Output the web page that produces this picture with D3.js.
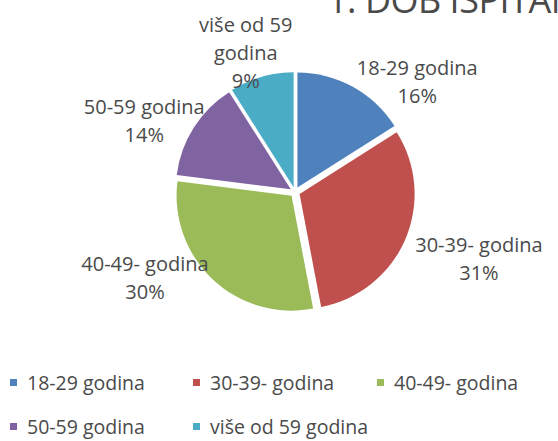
<!DOCTYPE html>
<html>
<head>
<meta charset="utf-8">
<script src="https://cdn.jsdelivr.net/npm/d3@7"></script>
<style>
  body { margin: 0; background: #fff; }
  svg { display: block; }
  text { font-family: "Open Sans", "Noto Sans", sans-serif; fill: #4a4a4a; }
</style>
</head>
<body>
<svg id="chart" width="558" height="441"></svg>
<script>
const title = "1. DOB ISPITANIKA";
const categories = ["18-29 godina", "30-39- godina", "40-49- godina", "50-59 godina", "više od 59 godina"];
const values = [16, 31, 30, 14, 9];
const colors = ["#4F81BD", "#C0504D", "#9BBB59", "#8064A2", "#4BACC6"];
// how excel wrapped the data labels
const labelLines = [["18-29 godina"], ["30-39- godina"], ["40-49- godina"], ["50-59 godina"], ["više od 59", "godina"]];

const svg = d3.select("#chart");
const cx = 295, cy = 192, radius = 115, explode = 5;

svg.append("text")
    .attr("x", 327).attr("y", 13)
    .attr("font-size", 36)
    .attr("letter-spacing", -0.5)
    .text(title);

const pie = d3.pie().sort(null).value(d => d);
const arcs = pie(values);
const arc = d3.arc().innerRadius(0).outerRadius(radius);

const g = svg.append("g").attr("transform", `translate(${cx},${cy})`);

g.selectAll("path.slice")
    .data(arcs)
    .enter().append("path")
    .attr("class", "slice")
    .attr("fill", (d, i) => colors[i])
    .attr("d", arc)
    .attr("transform", function (d) {
        const a = (d.startAngle + d.endAngle) / 2;
        return `translate(${Math.sin(a) * explode},${-Math.cos(a) * explode})`;
    });

// label placement (best fit outside) - polar around centre
const labelPlace = [
    {ang: 49, dist: 162},
    {ang: 111, dist: 197},
    {ang: 239, dist: 175},
    {ang: 294, dist: 165},
    {ang: 340, dist: 144}
];
const lineH = 28;

arcs.forEach(function (d, i) {
    const p = labelPlace[i];
    const a = p.ang * Math.PI / 180;
    const lx = Math.sin(a) * p.dist, ly = -Math.cos(a) * p.dist;
    const lines = labelLines[i].concat([d3.format(".0%")(d.data / d3.sum(values))]);
    const t = g.append("text")
        .attr("text-anchor", "middle")
        .attr("font-size", 20)
        .attr("x", lx)
        .attr("y", ly - (lines.length - 1) * lineH / 2 + 3);
    lines.forEach((s, k) => {
        t.append("tspan").attr("x", lx).attr("dy", k === 0 ? 0 : lineH).text(s);
    });
});

// legend, 3 columns wrapping onto a second row
const legX = [10, 193, 377];
const legY = [383, 427];
const legend = svg.append("g");
categories.forEach(function (c, i) {
    const x = legX[i % 3], y = legY[Math.floor(i / 3)];
    legend.append("rect")
        .attr("x", x).attr("y", y - 4)
        .attr("width", 7).attr("height", 7)
        .attr("fill", colors[i]);
    legend.append("text")
        .attr("x", x + 17).attr("y", y + 7)
        .attr("font-size", 19.5)
        .text(c);
});
</script>
</body>
</html>
